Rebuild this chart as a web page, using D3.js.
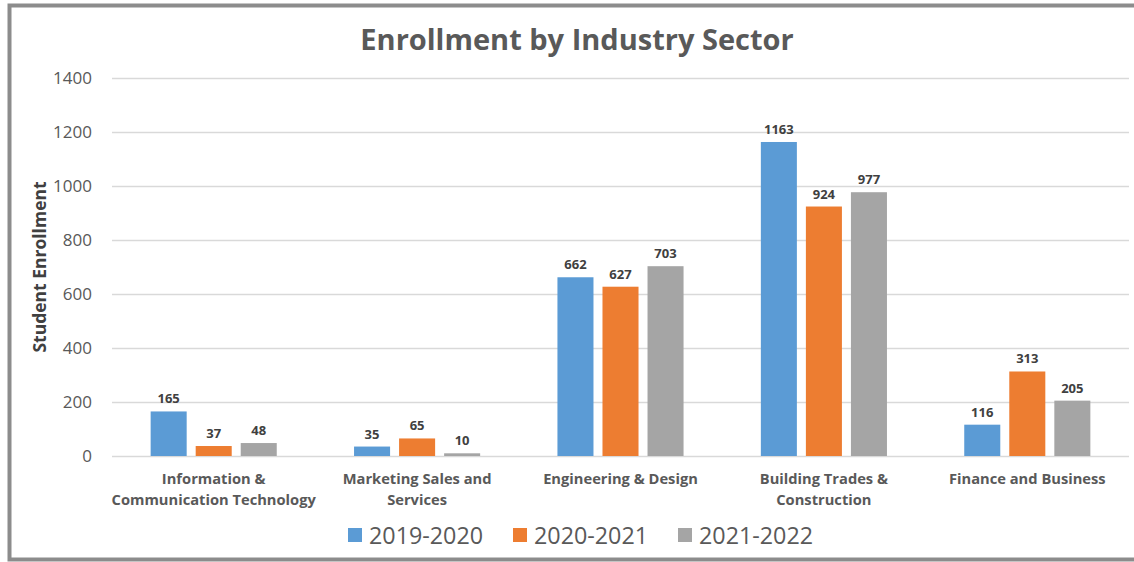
<!DOCTYPE html>
<html>
<head>
<meta charset="utf-8">
<script src="https://cdn.jsdelivr.net/npm/d3@7"></script>
<style>
  body { margin: 0; background: #fff; }
  svg { display: block; font-family: "Open Sans", sans-serif; }
</style>
</head>
<body>
<svg width="1134" height="562"></svg>
<script>
// chart data
const sectors = [
  ["Information &", "Communication Technology"],
  ["Marketing Sales and", "Services"],
  ["Engineering & Design"],
  ["Building Trades &", "Construction"],
  ["Finance and Business"]
]
const years = ["2019-2020", "2020-2021", "2021-2022"]
const y2019 = [165, 35, 662, 1163, 116]
const y2020 = [37, 65, 627, 924, 313]
const y2021 = [48, 10, 703, 977, 205]
const yTicks = [0, 200, 400, 600, 800, 1000, 1200, 1400]
const colors = ["#5b9bd5", "#ed7d31", "#a5a5a5"]

const svg = d3.select("svg")
const width = 1134, height = 562
const margin = {left: 112, right: 5, top: 78, bottom: 106}

// frame
svg.append("rect")
  .attr("x", 9.5).attr("y", 5.5)
  .attr("width", width + 20).attr("height", 554)
  .attr("fill", "none").attr("stroke", "#8c8c8c").attr("stroke-width", 4)

let x0 = d3.scaleBand()
  .domain(d3.range(sectors.length))
  .range([margin.left, width - margin.right])
  .paddingInner(0.38).paddingOuter(0.19)
let x1 = d3.scaleBand()
  .domain(d3.range(years.length))
  .range([0, x0.bandwidth()])
  .paddingInner(0.2)
let y = d3.scaleLinear().domain([0, 1400]).range([height - margin.bottom, margin.top])

// grid
svg.append("g")
  .attr("transform", `translate(${margin.left},0)`)
  .call(d3.axisLeft(y).tickValues(yTicks).tickSize(-(width - margin.left - margin.right)).tickFormat(""))
  .call(g => g.select(".domain").remove())
  .call(g => g.selectAll("line").attr("stroke", "#d9d9d9").attr("stroke-width", 1.3))

// y labels
svg.append("g")
  .attr("transform", `translate(${margin.left - 17},0)`)
  .call(d3.axisLeft(y).tickValues(yTicks).tickSize(0).tickFormat(d3.format("d")))
  .call(g => g.select(".domain").remove())
  .call(g => g.selectAll("text")
    .attr("font-family", "Open Sans").attr("font-size", 17).attr("fill", "#595959"))

let series = [y2019, y2020, y2021]
let groups = svg.selectAll("g.sector")
  .data(sectors)
  .enter().append("g")
  .attr("class", "sector")
  .attr("transform", (d, i) => `translate(${x0(i)},0)`)

groups.selectAll("rect")
  .data((d, i) => series.map((s, k) => ({k: k, v: s[i]})))
  .enter().append("rect")
  .attr("x", d => x1(d.k))
  .attr("width", x1.bandwidth())
  .attr("y", d => y(d.v))
  .attr("height", d => y(0) - y(d.v))
  .attr("fill", d => colors[d.k])

groups.selectAll("text.val")
  .data((d, i) => series.map((s, k) => ({k: k, v: s[i]})))
  .enter().append("text")
  .attr("class", "val")
  .attr("x", d => x1(d.k) + x1.bandwidth() / 2)
  .attr("y", d => y(d.v) - 8)
  .attr("text-anchor", "middle")
  .attr("font-size", 13).attr("font-weight", "bold").attr("fill", "#404040")
  .text(d => d.v)

// category labels
groups.append("text")
  .attr("text-anchor", "middle")
  .attr("font-size", 14.7).attr("font-weight", "bold").attr("fill", "#595959")
  .selectAll("tspan")
  .data(d => d)
  .enter().append("tspan")
  .attr("x", x0.bandwidth() / 2)
  .attr("y", (d, i) => y(0) + 28 + i * 21)
  .text(d => d)

// title
svg.append("text")
  .attr("x", 577).attr("y", 50)
  .attr("text-anchor", "middle")
  .attr("font-size", 29).attr("font-weight", "bold").attr("fill", "#595959")
  .text("Enrollment by Industry Sector")

// y axis title
svg.append("text")
  .attr("transform", "translate(46,267) rotate(-90)")
  .attr("text-anchor", "middle")
  .attr("font-size", 17.5).attr("font-weight", "bold").attr("fill", "#404040")
  .text("Student Enrollment")

// legend
let legendX = [348, 513, 678]
let legend = svg.selectAll("g.legend")
  .data(years)
  .enter().append("g")
  .attr("class", "legend")
  .attr("transform", (d, i) => `translate(${legendX[i]},535)`)
legend.append("rect")
  .attr("x", 0).attr("y", -7).attr("width", 14).attr("height", 14)
  .attr("fill", (d, i) => colors[i])
legend.append("text")
  .attr("x", 21).attr("y", 9)
  .attr("font-size", 23.3).attr("fill", "#595959")
  .text(d => d)
</script>
</body>
</html>
